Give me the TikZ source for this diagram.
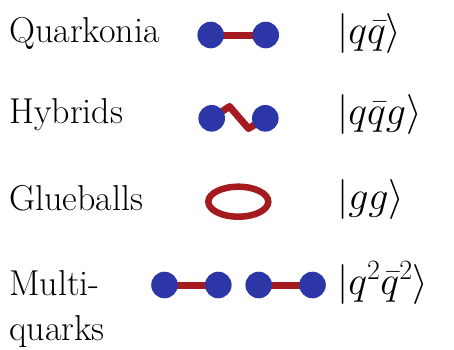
\RequirePackage{fix-cm}
\documentclass[tikz,border=0pt]{standalone}
\usetikzlibrary{backgrounds,shapes.geometric}
\definecolor{quarkblue}{RGB}{44,54,166}
\definecolor{stringred}{RGB}{164,26,30}
\begin{document}
\begin{tikzpicture}[x=1pt,y=-1pt,
  lbl/.style={anchor=base west,inner sep=0pt,font=\fontsize{36}{40}\selectfont},
  ket/.style={anchor=base west,inner sep=0pt,font=\fontsize{40}{44}\selectfont},
  ball/.style={circle,fill=quarkblue,inner sep=0pt,minimum size=26.6pt},
  bar/.style={draw=stringred,line width=7pt},
  ring/.style={ellipse,draw=stringred,line width=6.5pt,minimum width=60pt,minimum height=30pt,inner sep=0pt}]
\useasboundingbox (0,0) rectangle (454,349);
% labels
\node[lbl] (tq) at (9,42) {Quarkonia};
\node[lbl] (th) at (9,123) {Hybrids};
\node[lbl] (tg) at (9,210) {Glueballs};
\node[lbl] (tm1) at (9,295) {Multi-};
\node[lbl] (tm2) at (9,340) {quarks};
% kets
\node[ket] (kq) at (337,43) {$\bigl|q\bar q\bigr\rangle$};
\node[ket] (kh) at (337,124) {$\bigl|q\bar q g\bigr\rangle$};
\node[ket] (kg) at (337,209) {$\bigl|g g\bigr\rangle$};
\node[ket] (km) at (337,294) {$\bigl|q^2\bar q^2\bigr\rangle$};
% quarkonia
\node[ball] (q1) at (210.7,35) {};
\node[ball] (q2) at (265.7,35) {};
% hybrids
\node[ball] (h1) at (211.7,118.3) {};
\node[ball] (h2) at (265.3,118.3) {};
\coordinate (hp) at (229.5,106.5);
\coordinate (hv) at (248.5,128.5);
% glueball
\node[ring] (g) at (238.3,201.7) {};
% multiquarks
\node[ball] (m1) at (164.5,285) {};
\node[ball] (m2) at (218.3,285) {};
\node[ball] (m3) at (258.7,285) {};
\node[ball] (m4) at (312.5,285) {};
\begin{pgfonlayer}{background}
\draw[bar] (q1.center) -- (q2.center);
\draw[bar,line join=round] (h1.center) -- (hp) -- (hv) -- (h2.center);
\draw[bar] (m1.center) -- (m2.center);
\draw[bar] (m3.center) -- (m4.center);
\end{pgfonlayer}
\end{tikzpicture}
\end{document}
